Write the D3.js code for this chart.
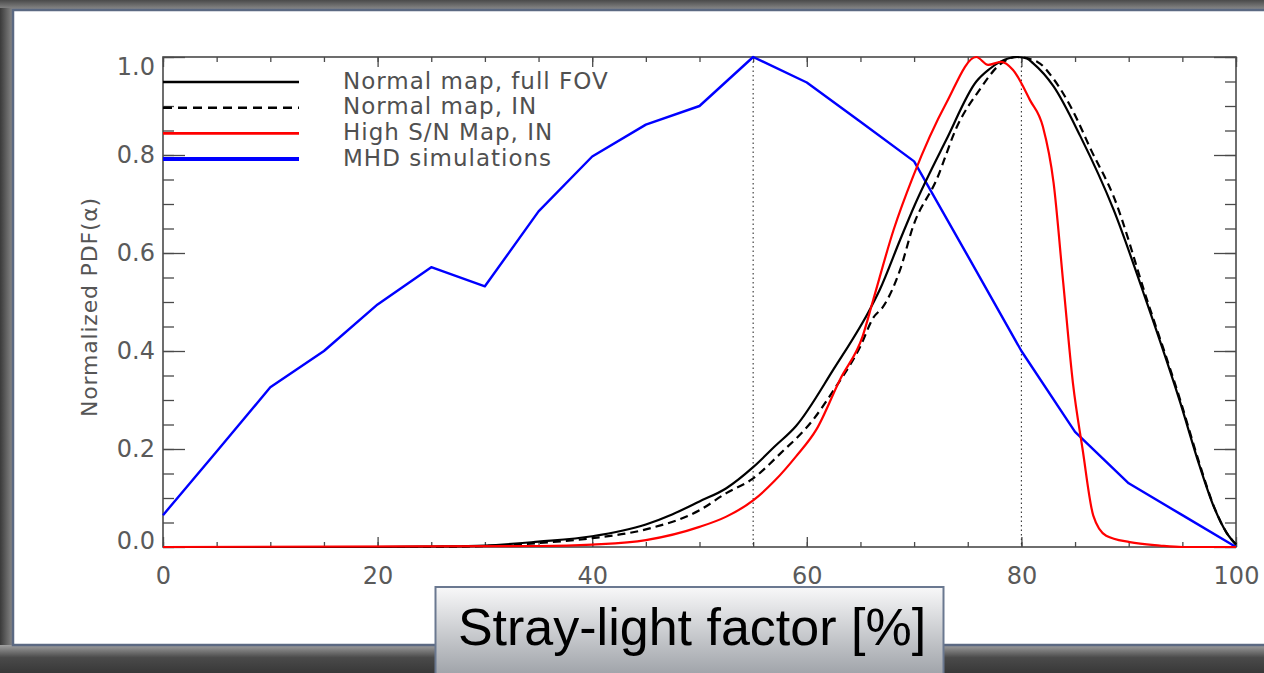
<!DOCTYPE html>
<html>
<head>
<meta charset="utf-8">
<script src="https://cdn.jsdelivr.net/npm/d3@7"></script>
<style>
  html, body { margin: 0; padding: 0; background: #3a3a3a; overflow: hidden; }
  svg { display: block; }
</style>
</head>
<body>
<svg id="canvas" width="1264" height="673"></svg>
<script>
// ************************************************************************************** //
// Data

var seriesNames = ['Normal map, full FOV', 'Normal map, IN', 'High S/N Map, IN', 'MHD simulations'];

var normalFull = [[0,0],[20,0],[25,0.001],[30,0.003],[35,0.011],[40,0.022],[45,0.046],[47.5,0.067],[50,0.093],
  [52.5,0.12],[55,0.163],[57,0.205],[59,0.247],[62.5,0.363],[66,0.49],[66.8,0.525],[68.7,0.627],[70,0.695],
  [73,0.831],[75.8,0.95],[77,0.975],[78,0.99],[79.6,1.0],[80.5,0.997],[81.1,0.987],[83,0.94],[85.5,0.838],
  [88.6,0.688],[91.7,0.498],[94.8,0.295],[96.6,0.166],[97.9,0.084],[99.1,0.03],[100,0.005]];

var normalIn = [[0,0],[25,0],[30,0.002],[35,0.008],[40,0.018],[45,0.036],[50,0.075],[52.5,0.11],[55,0.14],
  [57.5,0.19],[60.6,0.26],[62.5,0.32],[65,0.41],[66.2,0.468],[67.1,0.49],[68.7,0.566],[69.9,0.654],[72.1,0.75],
  [74,0.858],[76.1,0.933],[78,0.985],[79.6,1.0],[81.5,0.99],[83,0.955],[84.8,0.89],[86.5,0.81],[88.6,0.715],
  [91.7,0.505],[94.8,0.3],[96.6,0.17],[97.9,0.085],[99.1,0.03],[100,0.005]];

var highSN = [[0,0],[35,0.002],[40,0.005],[45,0.014],[50,0.041],[52.5,0.062],[55,0.095],[57,0.135],[59,0.185],
  [60.9,0.24],[63.1,0.342],[65.2,0.43],[66.2,0.505],[68.1,0.648],[69.9,0.756],[73,0.906],[75.8,1.0],[76.9,0.984],
  [78.1,0.99],[79.2,0.974],[80.8,0.912],[82,0.858],[83,0.743],[83.9,0.539],[84.8,0.335],[85.7,0.2],[86.7,0.064],
  [87.9,0.023],[90.1,0.01],[92.9,0.003],[95,0],[100,0]];

var mhdSim = [[0,0.065],[5,0.195],[10,0.326],[15,0.40],[20,0.495],[25,0.571],[30,0.532],[35,0.685],[40,0.797],
  [45,0.862],[50,0.90],[55,1.0],[60,0.948],[65,0.868],[70,0.787],[75,0.594],[80,0.40],[85,0.235],[90,0.13],
  [95,0.065],[100,0.0]];

var xTicks = [0, 20, 40, 60, 80, 100];
var xTickLabels = ['0', '20', '40', '60', '80', '100'];
var yTicks = [0, 0.2, 0.4, 0.6, 0.8, 1.0];
var yTickLabels = ['0.0', '0.2', '0.4', '0.6', '0.8', '1.0'];
var markers = [55, 80];

// ************************************************************************************** //
// Frame

var canvas = d3.select('#canvas');
var defs = canvas.append('defs');

var g_top = defs.append('linearGradient').attr('id', 'g_top').attr('x1', 0).attr('y1', 0).attr('x2', 0).attr('y2', 1);
g_top.append('stop').attr('offset', '0%').attr('stop-color', '#4a4a4a');
g_top.append('stop').attr('offset', '100%').attr('stop-color', '#8e8e8e');

var g_left = defs.append('linearGradient').attr('id', 'g_left').attr('x1', 0).attr('y1', 0).attr('x2', 1).attr('y2', 0);
g_left.append('stop').attr('offset', '0%').attr('stop-color', '#3a3a3a');
g_left.append('stop').attr('offset', '100%').attr('stop-color', '#8a8a8a');

var g_bot = defs.append('linearGradient').attr('id', 'g_bot').attr('x1', 0).attr('y1', 0).attr('x2', 0).attr('y2', 1);
g_bot.append('stop').attr('offset', '0%').attr('stop-color', '#a0a0a0');
g_bot.append('stop').attr('offset', '45%').attr('stop-color', '#4a4a4a');
g_bot.append('stop').attr('offset', '100%').attr('stop-color', '#383838');

var g_box = defs.append('linearGradient').attr('id', 'g_box').attr('x1', 0).attr('y1', 0).attr('x2', 0).attr('y2', 1);
g_box.append('stop').attr('offset', '0%').attr('stop-color', '#f8f8f9');
g_box.append('stop').attr('offset', '100%').attr('stop-color', '#9da1a7');

canvas.append('rect').attr('x', 0).attr('y', 0).attr('width', 1264).attr('height', 673).style('fill', '#3a3a3a');
canvas.append('rect').attr('x', 0).attr('y', 0).attr('width', 1264).attr('height', 10).style('fill', 'url(#g_top)');
canvas.append('rect').attr('x', 0).attr('y', 8).attr('width', 13).attr('height', 640).style('fill', 'url(#g_left)');
canvas.append('rect').attr('x', 0).attr('y', 645).attr('width', 1264).attr('height', 28).style('fill', 'url(#g_bot)');
canvas.append('rect').attr('x', 13).attr('y', 10).attr('width', 1260).attr('height', 635)
  .style('fill', 'white').style('stroke', '#5b6982').style('stroke-width', 2.5);

// ************************************************************************************** //
// Scales and axes

var x = d3.scaleLinear().domain([0, 100]).range([163, 1236]);
var y = d3.scaleLinear().domain([0, 1]).range([547, 57]);

var axis_color = '#4a4a4a';
var font_small = 'DejaVu Sans, Verdana, sans-serif';

function styleAxis(g){
  g.select('.domain').remove();
  g.selectAll('line').style('stroke', axis_color).style('stroke-width', 1.3);
  g.selectAll('text').style('font-family', font_small).style('font-size', '24px').style('fill', '#5a5a5a');
}

var minorX = d3.range(0, 101, 5);
var minorY = d3.range(0, 1.0001, 0.05);

// bottom
canvas.append('g').attr('transform', 'translate(0,' + y(0) + ')')
  .call(d3.axisBottom(x).tickValues(minorX).tickSize(-5).tickFormat(''))
  .call(styleAxis);
canvas.append('g').attr('transform', 'translate(0,' + y(0) + ')')
  .call(d3.axisBottom(x).tickValues(xTicks).tickSize(-10).tickPadding(20).tickFormat(function(d, i){ return xTickLabels[i]; }))
  .call(styleAxis);
// top
canvas.append('g').attr('transform', 'translate(0,' + y(1) + ')')
  .call(d3.axisTop(x).tickValues(minorX).tickSize(-5).tickFormat(''))
  .call(styleAxis);
canvas.append('g').attr('transform', 'translate(0,' + y(1) + ')')
  .call(d3.axisTop(x).tickValues(xTicks).tickSize(-10).tickFormat(''))
  .call(styleAxis);
// left
canvas.append('g').attr('transform', 'translate(' + x(0) + ',0)')
  .call(d3.axisLeft(y).tickValues(minorY).tickSize(-11).tickFormat(''))
  .call(styleAxis);
var yAxisG = canvas.append('g').attr('transform', 'translate(' + x(0) + ',0)')
  .call(d3.axisLeft(y).tickValues(yTicks).tickSize(-22).tickPadding(8).tickFormat(function(d, i){ return yTickLabels[i]; }))
  .call(styleAxis);
// keep end labels inside the axis range, as IDL does
yAxisG.selectAll('text').attr('y', function(d){
  if(d >= 1) return 10;
  if(d <= 0) return -6;
  return 0;
});
// right
canvas.append('g').attr('transform', 'translate(' + x(100) + ',0)')
  .call(d3.axisRight(y).tickValues(minorY).tickSize(-11).tickFormat(''))
  .call(styleAxis);
canvas.append('g').attr('transform', 'translate(' + x(100) + ',0)')
  .call(d3.axisRight(y).tickValues(yTicks).tickSize(-22).tickFormat(''))
  .call(styleAxis);

// frame lines
canvas.append('rect').attr('x', x(0)).attr('y', y(1)).attr('width', x(100) - x(0)).attr('height', y(0) - y(1))
  .style('fill', 'none').style('stroke', axis_color).style('stroke-width', 1.6);

// y title
canvas.append('text').attr('transform', 'translate(97,' + 307 + ') rotate(-90)')
  .attr('text-anchor', 'middle')
  .style('font-family', font_small).style('font-size', '22px').style('letter-spacing', '0.8px').style('fill', '#555')
  .text('Normalized PDF(α)');

// ************************************************************************************** //
// Marker lines and curves

canvas.selectAll('.marker').data(markers).enter().append('line')
  .attr('x1', function(d){ return x(d); }).attr('x2', function(d){ return x(d); })
  .attr('y1', y(1)).attr('y2', y(0))
  .style('stroke', '#333').style('stroke-width', 1.1).style('stroke-dasharray', '1.5,3');

var line = d3.line().x(function(d){ return x(d[0]); }).y(function(d){ return y(d[1]); });
var smooth = d3.line().curve(d3.curveMonotoneX).x(function(d){ return x(d[0]); }).y(function(d){ return y(d[1]); });

var series = [
  { data: mhdSim, color: '#0000ff', width: 2.4, dash: null, gen: line },
  { data: normalIn, color: '#000', width: 2.2, dash: '8,5', gen: smooth },
  { data: normalFull, color: '#000', width: 2.2, dash: null, gen: smooth },
  { data: highSN, color: '#ff0000', width: 2.2, dash: null, gen: smooth }
];

series.forEach(function(s){
  canvas.append('path').attr('d', s.gen(s.data))
    .style('fill', 'none').style('stroke', s.color).style('stroke-width', s.width)
    .style('stroke-linejoin', 'round')
    .style('stroke-dasharray', s.dash);
});

// ************************************************************************************** //
// Legend

var legend = [
  { color: '#000', width: 2.6, dash: null },
  { color: '#000', width: 2.4, dash: '9,6' },
  { color: '#ff0000', width: 2.6, dash: null },
  { color: '#0000ff', width: 4, dash: null }
];

legend.forEach(function(l, i){
  var ly = 82 + i * 25.7;
  canvas.append('line').attr('x1', x(0)).attr('x2', 299).attr('y1', ly).attr('y2', ly)
    .style('stroke', l.color).style('stroke-width', l.width).style('stroke-dasharray', l.dash);
  canvas.append('text').attr('x', 343).attr('y', ly + 6.5)
    .style('font-family', font_small).style('font-size', '23px').style('letter-spacing', '1px').style('fill', '#505050')
    .text(seriesNames[i]);
});

// ************************************************************************************** //
// Bottom label box

canvas.append('rect').attr('x', 435.5).attr('y', 587).attr('width', 508).attr('height', 90)
  .style('fill', 'url(#g_box)').style('stroke', '#6a7890').style('stroke-width', 2);
canvas.append('text').attr('x', 692).attr('y', 645).attr('text-anchor', 'middle')
  .style('font-family', 'Liberation Sans, Arial, sans-serif').style('font-size', '52px').style('fill', '#000')
  .text('Stray-light factor [%]');
</script>
</body>
</html>
